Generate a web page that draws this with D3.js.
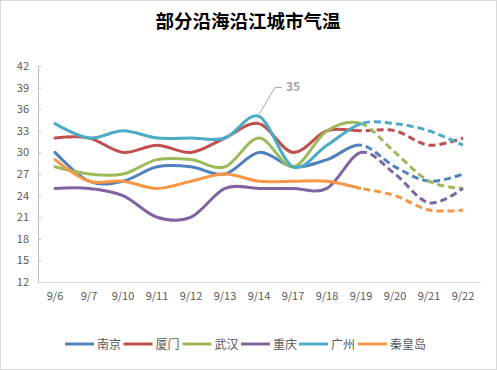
<!DOCTYPE html>
<html lang="zh">
  <head>
    <meta charset="utf-8">
    <title>部分沿海沿江城市气温</title>
    <script src="https://cdn.jsdelivr.net/npm/d3@7"></script>
    <style>
      body { margin: 0; background: #fff; }
      text { font-family: "Noto Sans CJK SC", "Noto Sans", sans-serif; }
    </style>
  </head>
  <body>
    <svg width="497" height="370"></svg>
    <script>
      // data
      var dates = ["9/6", "9/7", "9/10", "9/11", "9/12", "9/13", "9/14",
                   "9/17", "9/18", "9/19", "9/20", "9/21", "9/22"];
      var cities = ["南京", "厦门", "武汉", "重庆", "广州", "秦皇岛"];
      var nanjing   = [30, 26, 26, 28, 28, 27, 30, 28, 29, 31, 28, 26, 27];
      var xiamen    = [32, 32, 30, 31, 30, 32, 34, 30, 33, 33, 33, 31, 32];
      var wuhan     = [28, 27, 27, 29, 29, 28, 32, 28, 33, 34, 30, 26, 25];
      var chongqing = [25, 25, 24, 21, 21, 25, 25, 25, 25, 30, 27, 23, 25];
      var guangzhou = [34, 32, 33, 32, 32, 32, 35, 28, 31, 34, 34, 33, 31];
      var qhd       = [29, 26, 26, 25, 26, 27, 26, 26, 26, 25, 24, 22, 22];
      var yTicks = [12, 15, 18, 21, 24, 27, 30, 33, 36, 39, 42];
      var lastActual = "9/19";   // forecast (dashed) after this date

      var series = [nanjing, xiamen, wuhan, chongqing, guangzhou, qhd];
      var colors = ["#4F81BD", "#C0504D", "#9BBB59", "#8064A2", "#4BACC6", "#F79646"];

      var svg = d3.select("svg");

      // outer border
      svg.append("rect")
        .attr("x", 0.5).attr("y", 0.5)
        .attr("width", 496).attr("height", 369)
        .attr("fill", "#fff")
        .attr("stroke", "#d9d9d9");

      // title
      svg.append("text")
        .attr("x", 248)
        .attr("y", 28)
        .attr("text-anchor", "middle")
        .style("font-size", "18.5px")
        .style("font-weight", "bold")
        .attr("fill", "#000")
        .text("部分沿海沿江城市气温");

      // scales
      var x = d3.scaleBand().domain(dates).range([38, 480]);
      var y = d3.scaleLinear().domain([12, 42]).range([282, 66]);
      var cx = function(d) { return x(d) + x.bandwidth() / 2; };

      // y axis
      var yAxis = svg.append("g")
        .attr("transform", "translate(38,0)")
        .call(d3.axisLeft(y).tickValues(yTicks).tickSizeInner(-3).tickSizeOuter(0).tickPadding(9));
      yAxis.select(".domain").attr("stroke", "#bfbfbf");
      yAxis.selectAll(".tick line").attr("stroke", "#bfbfbf");
      yAxis.selectAll("text").attr("fill", "#595959").style("font-size", "11px");

      // x axis
      var xAxis = svg.append("g")
        .attr("transform", "translate(0,282)")
        .call(d3.axisBottom(x).tickSize(0).tickPadding(10));
      xAxis.select(".domain").attr("stroke", "#d9d9d9");
      xAxis.selectAll("text").attr("fill", "#595959").style("font-size", "11px");

      // clip regions: actual vs forecast
      var splitX = cx(lastActual);
      var defs = svg.append("defs");
      defs.append("clipPath").attr("id", "clipSolid")
        .append("rect").attr("x", 0).attr("y", 0).attr("width", splitX).attr("height", 370);
      defs.append("clipPath").attr("id", "clipDash")
        .append("rect").attr("x", splitX).attr("y", 0).attr("width", 497 - splitX).attr("height", 370);

      var line = d3.line()
        .x(function(d, i) { return cx(dates[i]); })
        .y(function(d) { return y(d); })
        .curve(d3.curveCardinal.tension(0));

      series.forEach(function(s, k) {
        svg.append("path")
          .attr("d", line(s))
          .attr("fill", "none")
          .attr("stroke", colors[k])
          .attr("stroke-width", 3)
          .attr("stroke-linecap", "round")
          .attr("clip-path", "url(#clipSolid)");
        svg.append("path")
          .attr("d", line(s))
          .attr("fill", "none")
          .attr("stroke", colors[k])
          .attr("stroke-width", 3)
          .attr("stroke-dasharray", "7,4")
          .attr("clip-path", "url(#clipDash)");
      });

      // data label for guangzhou peak
      var peakIdx = guangzhou.indexOf(d3.max(guangzhou));
      var px = cx(dates[peakIdx]), py = y(guangzhou[peakIdx]);
      svg.append("polyline")
        .attr("points", [[px, py - 2], [px + 16, py - 29], [px + 23, py - 29]].join(" "))
        .attr("fill", "none")
        .attr("stroke", "#a6a6a6")
        .attr("stroke-width", 1);
      svg.append("text")
        .attr("x", px + 27)
        .attr("y", py - 25)
        .attr("fill", "#a6a6a6")
        .style("font-size", "12px")
        .style("font-weight", "bold")
        .text(guangzhou[peakIdx]);

      // legend
      var legend = svg.append("g").attr("transform", "translate(65,344)");
      cities.forEach(function(c, k) {
        var offs = [0, 58.5, 117.5, 176, 234, 293][k];
        var g = legend.append("g").attr("transform", "translate(" + offs + ",0)");
        g.append("line")
          .attr("x1", 0).attr("x2", 29)
          .attr("stroke", colors[k])
          .attr("stroke-width", 3);
        g.append("text")
          .attr("x", 32)
          .attr("y", 4.5)
          .attr("fill", "#595959")
          .style("font-size", "12px")
          .text(c);
      });
    </script>
  </body>
</html>
